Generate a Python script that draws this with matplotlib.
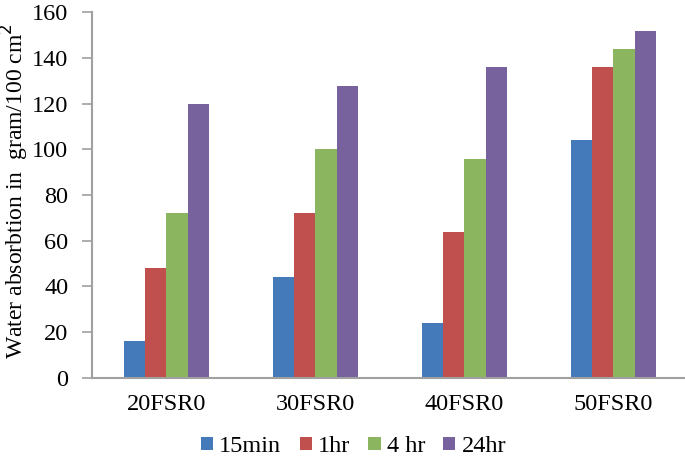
import numpy as np
import matplotlib.pyplot as plt

plt.rcParams['font.family'] = ['Liberation Serif', 'DejaVu Serif']

samples = ['20FSR0', '30FSR0', '40FSR0', '50FSR0']
series = ['15min', '1hr', '4 hr', '24hr']
min15 = [16, 44, 24, 104]
hr1 = [48, 72, 64, 136]
hr4 = [72, 100, 96, 144]
hr24 = [120, 128, 136, 152]
colors = ['#4479BA', '#C0504D', '#8BB55E', '#77629D']

values = [min15, hr1, hr4, hr24]

fig = plt.figure(figsize=(6.85, 4.62), dpi=100)
ax = fig.add_axes([0.1343, 0.1825, 0.8657, 0.7905])

x = np.arange(len(samples))
w = 0.143
for i, (name, vals) in enumerate(zip(series, values)):
    ax.bar(x + (i - 1.5) * w, vals, w, color=colors[i], label=name)

ax.set_xlim(-0.5, 3.48)
ax.set_ylim(0, 160)
ax.set_yticks(np.arange(0, 161, 20))
ax.set_xticks(x)
ax.set_xticklabels(samples)
ax.tick_params(axis='x', length=0, labelsize=17.5, pad=12)
ax.tick_params(axis='y', length=7, width=1.2, color='#A0A0A0', labelsize=17.5, pad=10)

for side in ['top', 'right']:
    ax.spines[side].set_visible(False)
for side in ['left', 'bottom']:
    ax.spines[side].set_color('#A0A0A0')
    ax.spines[side].set_linewidth(1.5)

ax.set_ylabel('Water absorbtion in  gram/100 cm$^2$', fontsize=17)
ax.yaxis.set_label_coords(-0.103, 0.51)

ax.legend(loc='upper center', bbox_to_anchor=(0.441, -0.12), ncol=4, frameon=False,
          fontsize=17.5, handlelength=0.5, handleheight=0.5, handletextpad=0.25,
          columnspacing=0.75, borderaxespad=0.2)

fig.savefig('out.png', dpi=100)
